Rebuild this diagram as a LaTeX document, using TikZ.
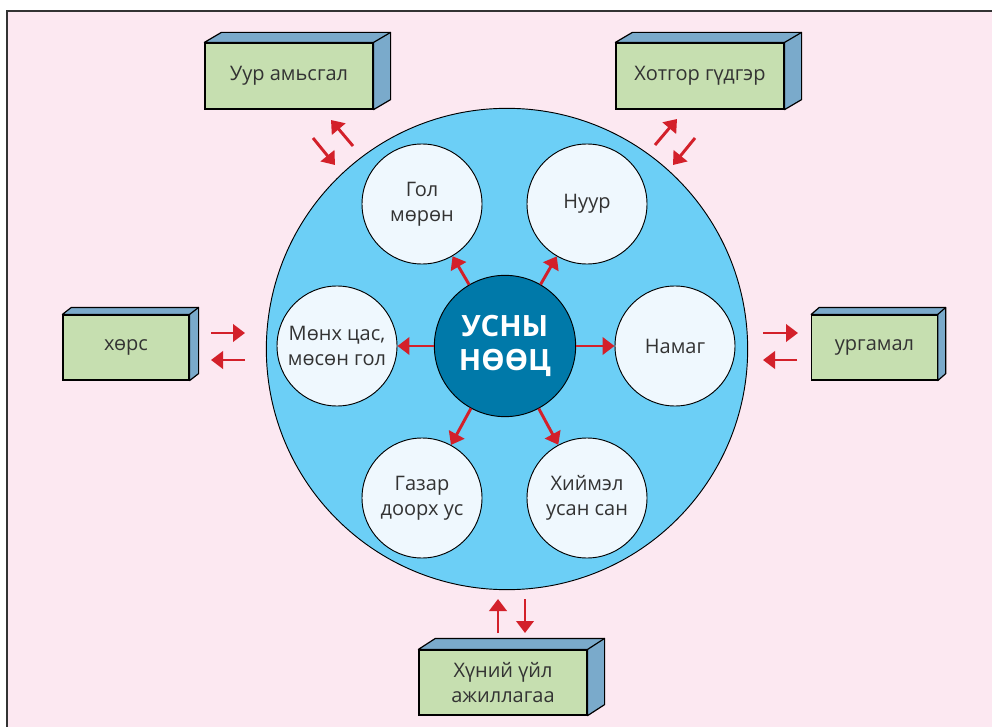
\documentclass[tikz,border=0pt]{standalone}
\usepackage{fontspec}
\setmainfont{Open Sans}
\usepackage{xcolor}
\usetikzlibrary{arrows.meta}

\definecolor{bgpink}{HTML}{FCE8F1}
\definecolor{poolblue}{HTML}{6CCFF6}
\definecolor{coreblue}{HTML}{0079A9}
\definecolor{lakewhite}{HTML}{EFF8FE}
\definecolor{boxgreen}{HTML}{C6DFB0}
\definecolor{sideblue}{HTML}{7AAACB}
\definecolor{flowred}{HTML}{D3202A}
\definecolor{inkgray}{HTML}{333333}

% top and right faces of a box node
\newcommand{\boxsides}[3]{%
  \filldraw[fill=sideblue, draw=black, line width=0.9pt, line join=round]
    (#1.north west) -- ++(#2,#3) -- ([shift={(#2,#3)}]#1.north east)
    -- ([shift={(#2,#3)}]#1.south east) -- (#1.south east) -- (#1.north east) -- cycle;
  \draw[line width=0.9pt] (#1.north east) -- ++(#2,#3);
}

\begin{document}
\begin{tikzpicture}[
    x=0.75pt, y=-0.75pt,
    font=\fontsize{15}{19}\selectfont,
    flow/.style={-{Triangle[length=9pt,width=13pt]}, line width=2.2pt, draw=flowred},
    lake/.style={circle, draw=black, line width=0.7pt, fill=lakewhite, minimum size=90pt,
                 inner sep=0pt, align=center, text=inkgray},
    place/.style={draw=black, line width=0.9pt, fill=boxgreen, inner sep=0pt,
                  align=center, text=inkgray}
]

    % Page and frame
    \useasboundingbox (0,0) rectangle (992,727);
    \fill[white] (0,0) rectangle (992,727);
    \fill[bgpink] (7,11) rectangle (992,727);
    \draw[inkgray, line width=1.2pt] (7,727) -- (7,11) -- (992,11);

    % Big pool
    \node[circle, draw=black, line width=0.7pt, fill=poolblue, minimum size=361pt, inner sep=0pt] (pool) at (507,349) {};

    % Water bodies
    \node[lake] (gol)    at (422,204) {Гол\\мөрөн};
    \node[lake] (nuur)   at (587,204) {Нуур};
    \node[lake] (namag)  at (675,346) {Намаг};
    \node[lake] (mungu)  at (337,346) {Мөнх цас,\\мөсөн гол};
    \node[lake] (gazar)  at (422,498) {Газар\\доорх ус};
    \node[lake] (khiimel) at (587,498) {Хиймэл\\усан сан};

    % Core
    \node[circle, draw=black, line width=0.7pt, fill=coreblue, minimum size=106pt, inner sep=0pt,
          align=center, text=white, font=\fontsize{22}{25}\selectfont\bfseries] (core) at (505,346) {УСНЫ\\НӨӨЦ};

    \foreach \t in {gol,nuur,namag,mungu,gazar,khiimel}
        \draw[flow] (core) -- (\t);

    % Outer factors
    \node[place, minimum width=126pt, minimum height=49.5pt] (uur)    at (289,76)    {Уур амьсгал};
    \node[place, minimum width=126pt, minimum height=49.5pt] (khotgor) at (700,76)   {Хотгор гүдгэр};
    \node[place, minimum width=94.5pt, minimum height=48.75pt] (khurs) at (126,347.5) {хөрс};
    \node[place, minimum width=94pt, minimum height=48.75pt] (urgamal) at (874.5,347.5) {ургамал};
    \node[place, minimum width=126pt, minimum height=48.75pt] (khun)   at (503,682.5) {Хүний үйл\\ажиллагаа};

    \boxsides{uur}{17}{-10}
    \boxsides{khotgor}{17}{-10}
    \boxsides{khurs}{9}{-7}
    \boxsides{urgamal}{8}{-7}
    \boxsides{khun}{17}{-11}

    % Exchange arrows
    \foreach \n/\x/\y in {ua/313/138, ub/335/165, uc/353/146, ud/331/120,
                          ka/655/145, kb/677/119, kc/695/138, kd/673/165,
                          xa/211/333, xb/245/333, xc/245/360, xd/211/360,
                          ra/763/333, rb/798/333, rc/797/360, rd/763/360,
                          ha/498/633, hb/498/599, hc/525/599, hd/525/633}
        \coordinate (\n) at (\x,\y);

    \foreach \s/\e in {ua/ub, uc/ud, ka/kb, kc/kd, xa/xb, xc/xd, ra/rb, rc/rd, ha/hb, hc/hd}
        \draw[flow] (\s) -- (\e);

\end{tikzpicture}
\end{document}
